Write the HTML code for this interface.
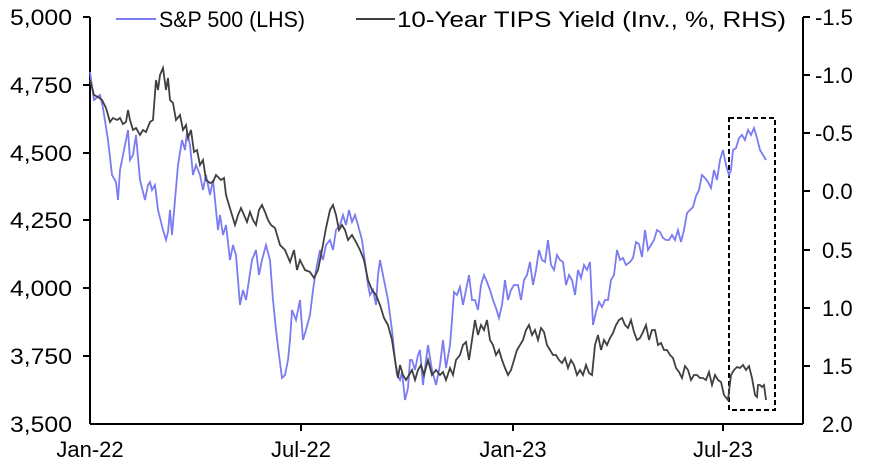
<!DOCTYPE html>
<html><head><style>
body{margin:0;background:#fff;}
svg text{font-family:"Liberation Sans",sans-serif;fill:#000;}
</style></head><body>
<svg width="874" height="466" viewBox="0 0 874 466">
<rect width="874" height="466" fill="#fff"/>
<g stroke="#000" stroke-width="2" fill="none">
<line x1="90" y1="17" x2="90" y2="424"/>
<line x1="803" y1="17" x2="803" y2="424"/>
<line x1="90" y1="424" x2="803" y2="424"/>
<line x1="83" y1="17" x2="90" y2="17"/><line x1="83" y1="85" x2="90" y2="85"/><line x1="83" y1="153" x2="90" y2="153"/><line x1="83" y1="220" x2="90" y2="220"/><line x1="83" y1="288" x2="90" y2="288"/><line x1="83" y1="356" x2="90" y2="356"/>
<line x1="803" y1="17" x2="810" y2="17"/><line x1="803" y1="75" x2="810" y2="75"/><line x1="803" y1="133" x2="810" y2="133"/><line x1="803" y1="191" x2="810" y2="191"/><line x1="803" y1="250" x2="810" y2="250"/><line x1="803" y1="308" x2="810" y2="308"/><line x1="803" y1="366" x2="810" y2="366"/>
<line x1="301" y1="424" x2="301" y2="431"/><line x1="513" y1="424" x2="513" y2="431"/><line x1="723" y1="424" x2="723" y2="431"/>
</g>
<g font-size="22" text-anchor="end">
<text x="72" y="25" textLength="62" lengthAdjust="spacingAndGlyphs">5,000</text><text x="72" y="93" textLength="62" lengthAdjust="spacingAndGlyphs">4,750</text><text x="72" y="161" textLength="62" lengthAdjust="spacingAndGlyphs">4,500</text><text x="72" y="228" textLength="62" lengthAdjust="spacingAndGlyphs">4,250</text><text x="72" y="296" textLength="62" lengthAdjust="spacingAndGlyphs">4,000</text><text x="72" y="364" textLength="62" lengthAdjust="spacingAndGlyphs">3,750</text><text x="72" y="432" textLength="62" lengthAdjust="spacingAndGlyphs">3,500</text>
</g>
<g font-size="22">
<text x="815" y="25">-1.5</text><text x="815" y="83">-1.0</text><text x="815" y="141">-0.5</text><text x="822" y="199">0.0</text><text x="822" y="258">0.5</text><text x="822" y="316">1.0</text><text x="822" y="374">1.5</text><text x="822" y="432">2.0</text>
</g>
<g font-size="22" text-anchor="middle">
<text x="90" y="457">Jan-22</text><text x="301" y="457">Jul-22</text><text x="513" y="457">Jan-23</text><text x="723" y="457">Jul-23</text>
</g>
<rect x="729" y="118" width="46" height="292" fill="none" stroke="#000" stroke-width="2" stroke-dasharray="5,3"/>
<polyline fill="none" stroke="#7b7bf2" stroke-width="1.8" points="90,72 94,100 100,95 103,108 108,140 112,175 116,182 118,200 120,170 124,150 126,140 128,130 130,160 133,155 136,135 140,180 145,200 148,185 150,182 152,190 155,185 158,210 163,230 166,240 168,232 170,210 172,235 175,200 178,165 182,140 185,150 187,132 190,145 193,175 196,165 200,175 203,190 206,175 210,195 213,180 218,230 220,215 223,235 226,225 230,260 233,245 236,255 240,305 243,290 246,300 249,280 252,260 256,250 259,275 262,260 266,245 270,260 273,300 276,330 279,355 282,378 285,375 288,360 290,340 292,310 296,320 300,300 303,340 306,330 310,315 313,290 316,270 318,260 320,250 323,260 326,245 330,240 333,250 336,230 340,225 343,215 346,225 349,210 352,222 355,215 358,225 362,240 365,262 368,285 370,295 373,290 376,305 378,275 380,260 384,280 388,300 392,330 395,360 397,375 400,380 402,372 405,400 408,388 410,360 412,360 415,370 418,355 420,350 423,385 426,360 428,345 432,370 436,385 440,365 443,340 446,368 450,345 452,320 454,292 457,295 460,287 463,305 466,290 469,275 472,300 475,300 478,310 481,285 484,275 487,282 490,290 493,300 496,308 499,318 502,305 505,280 508,300 511,290 514,285 518,285 521,300 524,280 527,275 530,262 533,285 536,270 539,250 542,260 545,262 548,240 551,265 554,270 557,255 560,260 563,262 566,285 569,275 572,280 575,295 578,270 581,278 584,265 587,270 590,262 593,325 596,312 599,302 602,307 605,300 608,300 611,280 614,275 617,250 620,260 623,258 626,265 630,262 633,258 636,242 639,244 642,257 645,230 648,250 651,245 654,240 657,230 660,232 663,238 666,240 669,240 672,235 675,240 678,230 681,242 684,230 687,213 690,210 693,207 696,196 699,190 702,175 705,178 708,182 711,188 714,170 717,180 720,160 723,150 726,165 729,175 731,170 733,150 736,148 739,138 742,135 745,140 748,130 751,135 754,128 757,138 760,150 763,155 766,160"/>
<polyline fill="none" stroke="#404040" stroke-width="1.8" points="90,80 94,95 98,97 102,100 106,108 110,122 113,118 117,120 120,118 123,124 126,122 128,110 130,120 133,130 136,128 140,135 143,130 146,132 150,122 153,120 156,80 158,90 160,75 163,68 166,90 168,78 170,100 173,103 176,120 180,115 183,130 186,125 188,138 191,130 194,152 197,150 200,165 203,160 206,180 210,183 213,182 216,175 219,178 221,180 224,178 226,195 229,205 232,215 235,225 238,215 241,208 244,215 247,222 250,212 253,220 256,225 259,210 262,205 265,212 268,220 271,225 275,228 280,245 285,250 290,262 294,250 297,270 300,260 305,270 310,272 314,278 318,270 322,250 326,228 330,210 333,205 336,215 339,230 342,225 345,230 348,240 352,235 356,242 360,250 364,260 368,280 372,290 376,295 380,305 384,318 388,325 392,340 395,360 398,378 400,365 403,375 406,380 409,375 412,370 415,380 418,370 421,365 424,375 428,360 432,375 436,370 440,375 443,372 446,380 450,368 453,375 456,360 460,355 463,345 466,342 469,360 472,340 475,320 478,335 481,325 484,330 487,320 490,340 493,345 496,355 499,350 502,360 505,368 508,375 511,370 514,360 517,350 520,345 523,340 526,330 529,325 532,335 535,330 538,340 541,328 544,332 547,345 550,350 553,355 556,355 559,360 562,363 565,358 568,368 571,360 574,365 577,375 580,370 583,375 586,365 589,373 592,375 595,345 598,335 601,350 604,340 607,345 610,338 613,333 616,325 619,320 622,318 625,325 628,328 631,320 634,332 637,340 640,338 643,332 646,325 649,340 652,330 655,330 658,345 661,343 664,350 667,350 670,355 673,358 676,368 679,372 682,378 685,366 688,370 691,380 694,375 697,375 700,378 703,378 706,380 709,372 712,385 715,375 718,380 721,382 724,395 728,400 731,375 734,370 737,367 740,368 743,365 746,370 749,366 752,378 755,395 757,397 758,385 760,385 762,387 764,385 766,400"/>
<line x1="116" y1="19" x2="156" y2="19" stroke="#7b7bf2" stroke-width="2"/>
<text x="159" y="27" font-size="22" textLength="146" lengthAdjust="spacingAndGlyphs">S&amp;P 500 (LHS)</text>
<line x1="356" y1="19" x2="395" y2="19" stroke="#404040" stroke-width="2"/>
<text x="397" y="27" font-size="22" textLength="389" lengthAdjust="spacingAndGlyphs">10-Year TIPS Yield (Inv., %, RHS)</text>
</svg>
</body></html>
